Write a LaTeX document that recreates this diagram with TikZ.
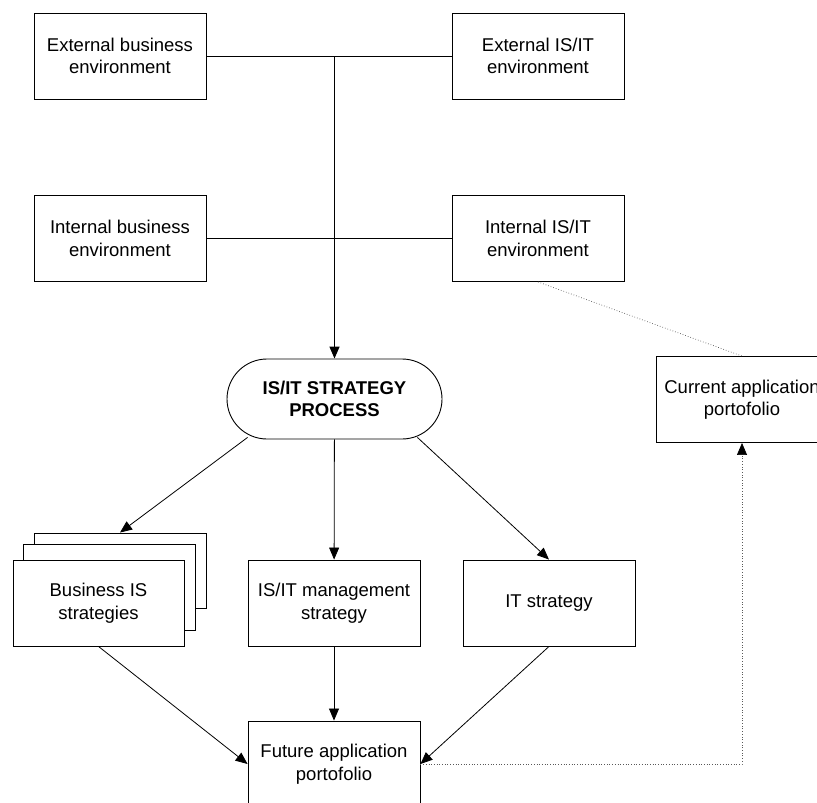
\documentclass[tikz,border=0pt]{standalone}
\usepackage{fontspec}
\setmainfont{Liberation Sans}
\usetikzlibrary{arrows.meta}

\begin{document}
\begin{tikzpicture}[x=1pt, y=-1pt,
        font=\fontsize{18.5}{22.5}\selectfont,
        >={Triangle[length=12pt, width=10pt]},
        box/.style={draw, fill=white, line width=0.9pt, align=center, inner sep=0pt,
            minimum width=172pt, minimum height=86pt},
        link/.style={line width=0.8pt},
        trace/.style={dotted, line width=0.7pt, draw=black!65}]
        \useasboundingbox (0, 0) rectangle (817, 803);
        \clip (0, 0) rectangle (817, 803);

        \node[box] (extbiz) at (120, 56) {External business\\environment};
        \node[box] (extit) at (538, 56) {External IS/IT\\environment};
        \node[box] (intbiz) at (120, 238.5) {Internal business\\environment};
        \node[box] (intit) at (538, 238.5) {Internal IS/IT\\environment};
        \node[box, font=\fontsize{18.5}{22.5}\selectfont\bfseries, minimum width=215pt,
            minimum height=80pt, rounded corners=40pt] (process) at (334.5, 399) {IS/IT STRATEGY\\PROCESS};
        \node[box] (curapp) at (742, 399.5) {Current application\\portofolio};

        % stack of business IS strategies
        \node[box, minimum height=75pt] (bizback) at (120, 570.5) {};
        \node[box] (bizmid) at (109, 587) {};
        \node[box, minimum width=171pt] (bizis) at (98.5, 603) {Business IS\\strategies};
        \node[box] (mgmt) at (334, 603) {IS/IT management\\strategy};
        \node[box] (itstrat) at (549, 603) {IT strategy};
        \node[box] (futapp) at (334, 764) {Future application\\portofolio};

        \coordinate (topjoin) at (extbiz.east -| process.north);

        \draw[line width=1pt] (extbiz) to (extit)
            (intbiz) to (intit);
        \draw[line width=1.4pt, ->] (topjoin) to (process);
        \draw[link, ->] ([xshift=21pt, yshift=2pt]process.south west) to (bizback.north);
        \draw[link, ->] (process) to (mgmt);
        \draw[link, ->] ([xshift=-25pt, yshift=2pt]process.south east) to (itstrat.north);
        \draw[link, ->] (bizis.south) to (futapp.west);
        \draw[link, ->] (mgmt) to (futapp);
        \draw[link, ->] (itstrat.south) to (futapp.east);
        \draw[trace] (intit.south) to (curapp.north);
        \draw[trace, -{Triangle[length=12pt, width=10pt, color=black]}] (futapp.east) -| (curapp.south);
\end{tikzpicture}
\end{document}
